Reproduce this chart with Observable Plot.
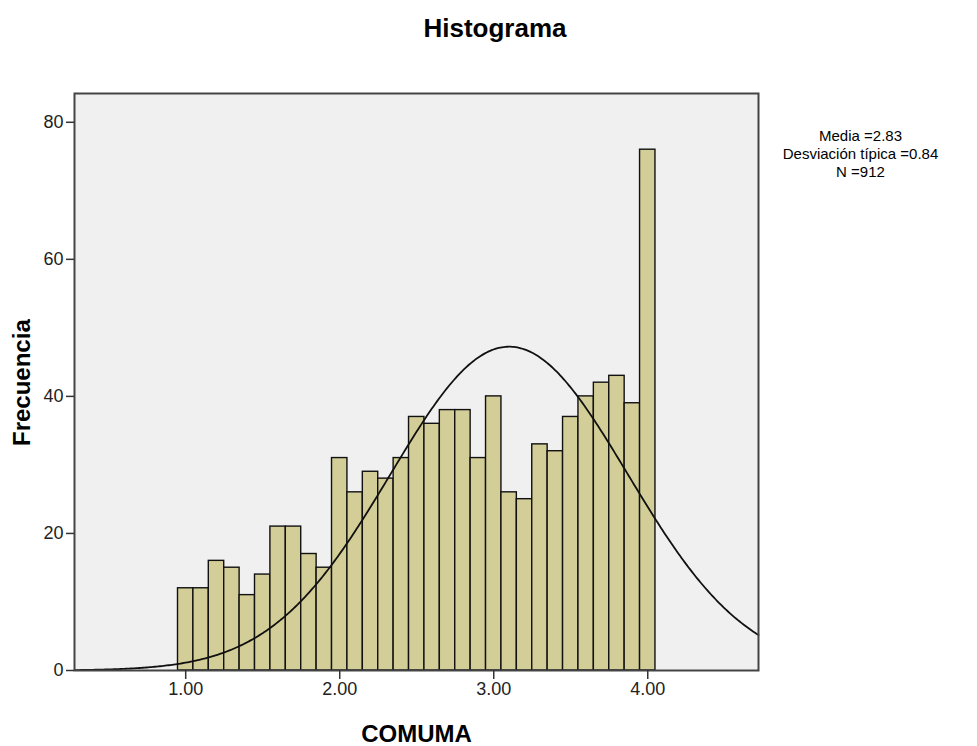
<!DOCTYPE html>
<html>
<head>
<meta charset="utf-8">
<script src="https://cdn.jsdelivr.net/npm/d3@7"></script>
<script src="https://cdn.jsdelivr.net/npm/@observablehq/plot@0.6"></script>
<style>
  html, body { margin: 0; padding: 0; background: #ffffff; }
  #wrap { position: relative; width: 977px; height: 746px; font-family: "Liberation Sans", Arial, sans-serif; }
  #title { height: 50px; position: relative; }
  #title span { position: absolute; left: 495px; top: 28px; transform: translate(-50%, -50%);
    font-size: 26px; font-weight: bold; color: #000; white-space: nowrap; }
</style>
</head>
<body>
<div id="wrap">
  <div id="title"><span>Histograma</span></div>
  <div id="chart"></div>
</div>
<script>
// Bin centers of COMUMA (bin width 0.10) and their frequencies
const binCenters = [1.0, 1.1, 1.2, 1.3, 1.4, 1.5, 1.6, 1.7, 1.8, 1.9,
                    2.0, 2.1, 2.2, 2.3, 2.4, 2.5, 2.6, 2.7, 2.8, 2.9,
                    3.0, 3.1, 3.2, 3.3, 3.4, 3.5, 3.6, 3.7, 3.8, 3.9, 4.0];
const counts = [12, 12, 16, 15, 11, 14, 21, 21, 17, 15,
                31, 26, 29, 28, 31, 37, 36, 38, 38, 31,
                40, 26, 25, 33, 32, 37, 40, 42, 43, 39, 76];
const binWidth = 0.1;

// Summary statistics shown next to the chart
const statMean = 2.83;
const statSd = 0.84;
const statN = 912;

// Normal curve overlaid on the histogram
const curveCenter = 3.1;
const curveSpread = 0.77;

// Axis ticks
const xTicks = [1, 2, 3, 4];
const yTicks = [0, 20, 40, 60, 80];
const xDomain = [0.278, 4.719];
const yDomain = [0, 84.2];

const bins = binCenters.map((c, i) => ({x1: c - binWidth / 2, x2: c + binWidth / 2, count: counts[i]}));

const curve = d3.range(0, 401).map(i => {
  const x = xDomain[0] + (xDomain[1] - xDomain[0]) * i / 400;
  const z = (x - curveCenter) / curveSpread;
  return {x, y: statN * binWidth * Math.exp(-0.5 * z * z) / (curveSpread * Math.sqrt(2 * Math.PI))};
});

const statsText = `Media =${statMean.toFixed(2)}\nDesviación típica =${statSd.toFixed(2)}\nN =${statN}`;

const font = "Liberation Sans, Arial, sans-serif";

const chart = Plot.plot({
  width: 977,
  height: 696,
  marginTop: 43,
  marginLeft: 74,
  marginRight: 219,
  marginBottom: 76,
  style: {fontFamily: font, background: "transparent", color: "#000"},
  x: {domain: xDomain},
  y: {domain: yDomain},
  marks: [
    Plot.frame({fill: "#F0F0F0", stroke: null}),
    Plot.rectY(bins, {x1: "x1", x2: "x2", y: "count", fill: "#D3CE97", stroke: "#111", strokeWidth: 1.4, inset: 0}),
    Plot.line(curve, {x: "x", y: "y", stroke: "#111", strokeWidth: 1.8, curve: "linear"}),
    Plot.frame({stroke: "#444", strokeWidth: 2}),
    Plot.axisY({ticks: yTicks, tickSize: 8, tickPadding: 3, fontSize: 18, label: null, stroke: "#333", strokeWidth: 1.5, fill: "#222"}),
    Plot.axisX({ticks: xTicks, tickFormat: d => d.toFixed(2), tickSize: 9, tickPadding: 3, fontSize: 18, label: null, stroke: "#333", strokeWidth: 1.5, fill: "#222"}),
    Plot.text(["COMUMA"], {frameAnchor: "bottom", dy: 71, fontSize: 24, fontWeight: "bold", fill: "#000"}),
    Plot.text(["Frecuencia"], {frameAnchor: "left", dx: -52, dy: 64, rotate: -90, fontSize: 24, fontWeight: "bold", fill: "#000"}),
    Plot.text([statsText], {frameAnchor: "top-right", dx: 102, dy: 35, lineAnchor: "top", textAnchor: "middle", fontSize: 15, lineHeight: 1.2, fill: "#000"})
  ]
});
document.getElementById("chart").appendChild(chart);
</script>
</body>
</html>
